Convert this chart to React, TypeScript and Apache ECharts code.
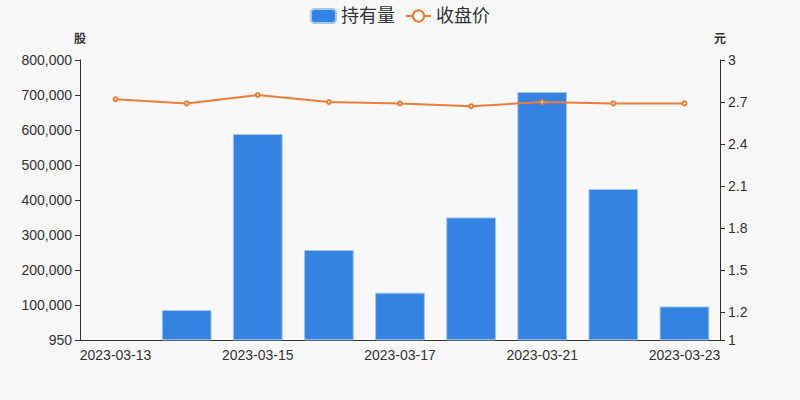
import React, { useEffect, useRef } from 'react';
import * as echarts from 'echarts';

const dates = [
  '2023-03-13', '2023-03-14', '2023-03-15', '2023-03-16', '2023-03-17',
  '2023-03-20', '2023-03-21', '2023-03-22', '2023-03-23',
];
const holdings = [950, 86600, 588800, 257800, 136000, 350800, 708700, 431900, 96800];
const closePrices = [2.72, 2.69, 2.75, 2.70, 2.69, 2.67, 2.70, 2.69, 2.69];

const App = () => {
  const chartRef = useRef<HTMLDivElement>(null);

  useEffect(() => {
    document.body.style.margin = '0';
    if (!chartRef.current) return;
    const myChart = echarts.init(chartRef.current, null, { renderer: 'svg' });
    myChart.setOption({
      animation: false,
      backgroundColor: '#f8f8f8',
      textStyle: { fontFamily: 'Liberation Sans, Arial, Noto Sans CJK SC, sans-serif' },
      legend: {
        top: 2,
        left: 'center',
        itemWidth: 25,
        itemHeight: 14,
        itemGap: 10,
        textStyle: { fontSize: 18, color: '#333' },
        data: [
          { name: '持有量', icon: 'roundRect' },
          { name: '收盘价' },
        ],
      },
      grid: { left: 80, right: 80, top: 60, bottom: 60 },
      xAxis: {
        type: 'category',
        data: dates,
        axisLine: { lineStyle: { color: '#333' } },
        axisTick: { lineStyle: { color: '#333' } },
        axisLabel: { color: '#333', fontSize: 14, interval: 1 },
      },
      yAxis: [
        {
          type: 'value',
          name: '股',
          min: 950,
          max: 800000,
          splitNumber: 8,
          nameTextStyle: { fontWeight: 'bold', fontSize: 12, color: '#333' },
          axisLine: { show: true, lineStyle: { color: '#333' } },
          axisTick: { show: true, lineStyle: { color: '#333' } },
          axisLabel: {
            color: '#333',
            fontSize: 14,
            formatter: (v: number) => v.toLocaleString('en-US'),
          },
          splitLine: { show: false },
        },
        {
          type: 'value',
          name: '元',
          min: 1,
          max: 3,
          splitNumber: 8,
          nameTextStyle: { fontWeight: 'bold', fontSize: 12, color: '#333' },
          axisLine: { show: true, lineStyle: { color: '#333' } },
          axisTick: { show: true, lineStyle: { color: '#333' } },
          axisLabel: { color: '#333', fontSize: 14 },
          splitLine: { show: false },
        },
      ],
      series: [
        {
          name: '持有量',
          type: 'bar',
          data: holdings,
          barWidth: '70%',
          itemStyle: { color: '#3483e3', borderColor: '#a3c6f1', borderWidth: 1 },
        },
        {
          name: '收盘价',
          type: 'line',
          yAxisIndex: 1,
          data: closePrices,
          symbol: 'emptyCircle',
          symbolSize: 4,
          lineStyle: { width: 2, color: '#ee7d35' },
          itemStyle: { color: '#ee7d35' },
        },
      ],
    });
    return () => {
      myChart.dispose();
    };
  }, []);

  return <div ref={chartRef} style={{ width: 800, height: 400 }}></div>;
};

export default App;
